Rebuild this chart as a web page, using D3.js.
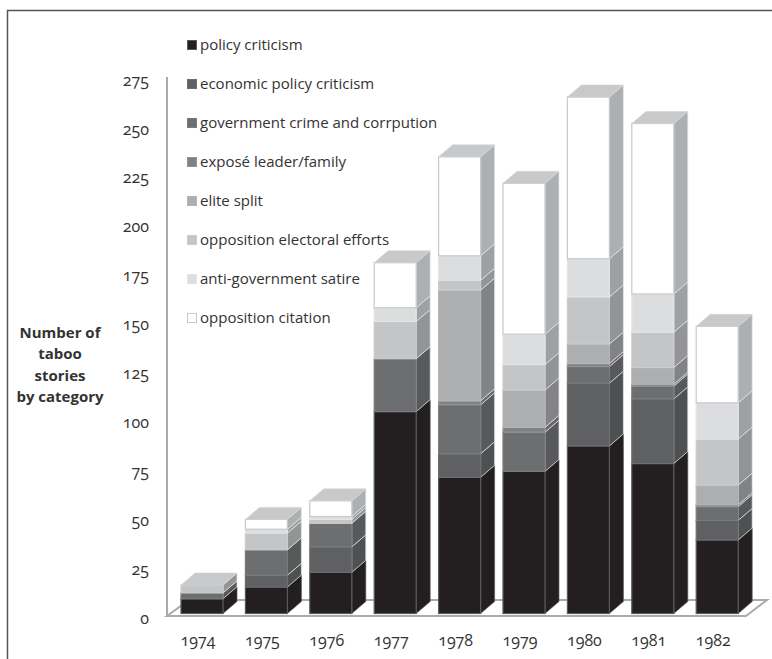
<!DOCTYPE html>
<html>
<head>
<meta charset="utf-8">
<script src="https://cdn.jsdelivr.net/npm/d3@7"></script>
<style>
  body { margin: 0; background: #fff; }
  text { font-family: "Open Sans", sans-serif; fill: #333; font-feature-settings: "onum"; }
</style>
</head>
<body>
<div id="chart"></div>
<script>
const years = ["1974", "1975", "1976", "1977", "1978", "1979", "1980", "1981", "1982"];
const categories = [
    "policy criticism",
    "economic policy criticism",
    "government crime and corrpution",
    "exposé leader/family",
    "elite split",
    "opposition electoral efforts",
    "anti-government satire",
    "opposition citation"
];
const policyCriticism = [7.5, 13.5, 21, 103, 69.5, 72.5, 85.5, 76.5, 37.5];
const economicPolicy = [0, 6, 13, 0, 12, 0, 32, 33, 10];
const governmentCrime = [3, 13, 12, 27, 25, 20, 8.5, 6.5, 7];
const exposeLeader = [0, 0, 0, 0, 2, 2.5, 1.5, 1, 1];
const eliteSplit = [0, 0, 0, 0, 56.5, 19, 10, 8.5, 10];
const electoralEfforts = [4, 8.5, 2, 19, 5, 13, 24, 18, 23.5];
const governmentSatire = [0, 2, 1.5, 7, 12.5, 15.5, 19.5, 19.5, 18.5];
const oppositionCitation = [0, 5, 8, 23, 50.5, 77, 82.5, 87, 39];
const yTicks = d3.range(0, 276, 25);

const seriesValues = [policyCriticism, economicPolicy, governmentCrime, exposeLeader,
    eliteSplit, electoralEfforts, governmentSatire, oppositionCitation];

const FRONT_COLORS = ["#231f20", "#5f6062", "#6d6e70", "#808184", "#adaeb0", "#c4c5c7", "#dcddde", "#ffffff"];
const SIDE_COLORS = ["#231f20", "#4f5052", "#58595b", "#666769", "#828386", "#939496", "#9fa0a2", "#aeafb1"];
const EDGE_COLORS = ["#58595b", "#6d6e70", "#7a7b7d", "#939496", "#b5b6b8", "#cbcccd", "#e3e4e5", "#c8c9cb"];
const CAP_COLOR = "#c8c9cb";
const AXIS_COLOR = "#a9aaac";
const DEPTH_X = 14;
const DEPTH_Y = 12;

const svg = d3.select("#chart")
    .append("svg")
    .attr("width", 772)
    .attr("height", 659)
    .style("display", "block");

// The scan keeps a frame on the top and left, open towards the bottom.
svg.append("path")
    .attr("d", "M7.5,659V10.5H772")
    .attr("fill", "none")
    .attr("stroke", "#555")
    .attr("stroke-width", 1.5);

const xScale = d3.scaleBand()
    .domain(years)
    .range([169.8, 749.4])
    .paddingInner(0.348)
    .paddingOuter(0.174);

const yScale = d3.scaleLinear()
    .domain([0, 275])
    .range([613.5, 74.5]);

// Floor of the 3D box, then the left axis line.
svg.append("path")
    .attr("d", "M167,616H746L767,600H189Z")
    .attr("fill", "none")
    .attr("stroke", AXIS_COLOR)
    .attr("stroke-width", 2);

svg.append("line")
    .attr("x1", 167).attr("x2", 167)
    .attr("y1", 77).attr("y2", 616)
    .attr("stroke", AXIS_COLOR)
    .attr("stroke-width", 2);

const stackData = years.map((year, i) => {
    const row = { year };
    categories.forEach((c, k) => { row[c] = seriesValues[k][i]; });
    return row;
});
const stacked = d3.stack().keys(categories)(stackData);

const bars = svg.append("g");

stacked.forEach((layer, k) => {
    layer.forEach(seg => {
        if (seg[1] <= seg[0]) return;
        const x0 = xScale(seg.data.year);
        const w = xScale.bandwidth();
        const yTop = yScale(seg[1]);
        const yBottom = yScale(seg[0]);

        // Side face: the thin pale stroke gives the white seams between layers.
        bars.append("path")
            .attr("d", `M${x0 + w},${yBottom}L${x0 + w + DEPTH_X},${yBottom - DEPTH_Y}V${yTop - DEPTH_Y}L${x0 + w},${yTop}Z`)
            .attr("fill", SIDE_COLORS[k])
            .attr("stroke", k === 0 ? "#58595b" : "#e6e7e8")
            .attr("stroke-width", 0.7);

        bars.append("rect")
            .attr("x", x0)
            .attr("y", yTop)
            .attr("width", w)
            .attr("height", yBottom - yTop)
            .attr("fill", FRONT_COLORS[k])
            .attr("stroke", EDGE_COLORS[k])
            .attr("stroke-width", 1.2);
    });
});

// Every bar is capped in the same pale grey.
bars.selectAll(".cap")
    .data(stackData)
    .join("path")
    .attr("class", "cap")
    .attr("d", d => {
        const x0 = xScale(d.year);
        const w = xScale.bandwidth();
        const top = yScale(d3.sum(categories, c => d[c]));
        return `M${x0},${top}L${x0 + DEPTH_X},${top - DEPTH_Y}H${x0 + w + DEPTH_X}L${x0 + w},${top}Z`;
    })
    .attr("fill", CAP_COLOR)
    .attr("stroke", "#d4d5d6")
    .attr("stroke-width", 0.6);

const yAxis = svg.append("g")
    .attr("transform", "translate(149,0)")
    .call(d3.axisLeft(d3.scaleLinear().domain([0, 275]).range([618, 80]))
        .tickValues(yTicks).tickSize(0).tickPadding(0));
yAxis.select(".domain").remove();
yAxis.selectAll("text").style("font-size", "16px").style("font-family", null);

const xAxis = svg.append("g")
    .attr("transform", "translate(-4,635)")
    .call(d3.axisBottom(xScale).tickSize(0).tickPadding(0));
xAxis.select(".domain").remove();
xAxis.selectAll("text").style("font-size", "16px").style("font-family", null);

const yTitle = svg.append("text")
    .attr("text-anchor", "middle")
    .style("font-size", "15px")
    .style("font-weight", "700");
["Number of", "taboo", "stories", "by category"].forEach((line, i) => {
    yTitle.append("tspan")
        .attr("x", 60)
        .attr("y", 338 + i * 21.3)
        .text(line);
});

const legend = svg.append("g")
    .selectAll("g")
    .data(categories)
    .join("g")
    .attr("transform", (d, i) => `translate(187,${45 + i * 39})`);

legend.append("rect")
    .attr("x", 0.5)
    .attr("y", -4.5)
    .attr("width", 9)
    .attr("height", 9)
    .attr("fill", (d, i) => FRONT_COLORS[i])
    .attr("stroke", (d, i) => EDGE_COLORS[i]);

legend.append("text")
    .attr("x", 13)
    .attr("dy", "0.32em")
    .style("font-size", "15px")
    .text(d => d);
</script>
</body>
</html>
